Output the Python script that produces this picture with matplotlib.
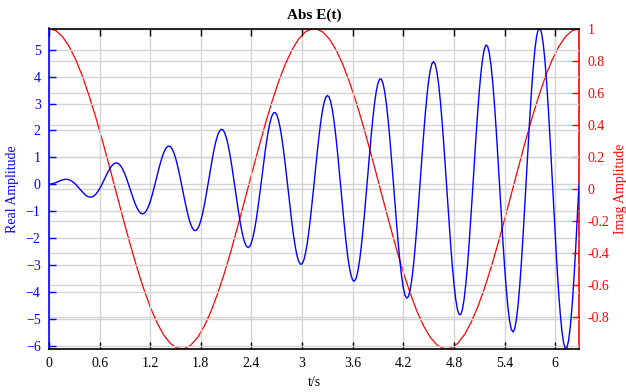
import numpy as np
import matplotlib
matplotlib.use("Agg")
import matplotlib.pyplot as plt

# ---- data ----
t_real = [0.00, 0.02, 0.04, 0.06, 0.08, 0.10, 0.12, 0.14, 0.16, 0.18,
          0.20, 0.22, 0.24, 0.26, 0.28, 0.30, 0.32, 0.34, 0.36, 0.38,
          0.40, 0.42, 0.44, 0.46, 0.48, 0.50, 0.52, 0.54, 0.56, 0.58,
          0.60, 0.62, 0.64, 0.66, 0.68, 0.70, 0.72, 0.74, 0.76, 0.78,
          0.80, 0.82, 0.84, 0.86, 0.88, 0.90, 0.92, 0.94, 0.96, 0.98,
          1.00, 1.02, 1.04, 1.06, 1.08, 1.10, 1.12, 1.14, 1.16, 1.18,
          1.20, 1.22, 1.24, 1.26, 1.28, 1.30, 1.32, 1.34, 1.36, 1.38,
          1.40, 1.42, 1.44, 1.46, 1.48, 1.50, 1.52, 1.54, 1.56, 1.58,
          1.60, 1.62, 1.64, 1.66, 1.68, 1.70, 1.72, 1.74, 1.76, 1.78,
          1.80, 1.82, 1.84, 1.86, 1.88, 1.90, 1.92, 1.94, 1.96, 1.98,
          2.00, 2.02, 2.04, 2.06, 2.08, 2.10, 2.12, 2.14, 2.16, 2.18,
          2.20, 2.22, 2.24, 2.26, 2.28, 2.30, 2.32, 2.34, 2.36, 2.38,
          2.40, 2.42, 2.44, 2.46, 2.48, 2.50, 2.52, 2.54, 2.56, 2.58,
          2.60, 2.62, 2.64, 2.66, 2.68, 2.70, 2.72, 2.74, 2.76, 2.78,
          2.80, 2.82, 2.84, 2.86, 2.88, 2.90, 2.92, 2.94, 2.96, 2.98,
          3.00, 3.02, 3.04, 3.06, 3.08, 3.10, 3.12, 3.14, 3.16, 3.18,
          3.20, 3.22, 3.24, 3.26, 3.28, 3.30, 3.32, 3.34, 3.36, 3.38,
          3.40, 3.42, 3.44, 3.46, 3.48, 3.50, 3.52, 3.54, 3.56, 3.58,
          3.60, 3.62, 3.64, 3.66, 3.68, 3.70, 3.72, 3.74, 3.76, 3.78,
          3.80, 3.82, 3.84, 3.86, 3.88, 3.90, 3.92, 3.94, 3.96, 3.98,
          4.00, 4.02, 4.04, 4.06, 4.08, 4.10, 4.12, 4.14, 4.16, 4.18,
          4.20, 4.22, 4.24, 4.26, 4.28, 4.30, 4.32, 4.34, 4.36, 4.38,
          4.40, 4.42, 4.44, 4.46, 4.48, 4.50, 4.52, 4.54, 4.56, 4.58,
          4.60, 4.62, 4.64, 4.66, 4.68, 4.70, 4.72, 4.74, 4.76, 4.78,
          4.80, 4.82, 4.84, 4.86, 4.88, 4.90, 4.92, 4.94, 4.96, 4.98,
          5.00, 5.02, 5.04, 5.06, 5.08, 5.10, 5.12, 5.14, 5.16, 5.18,
          5.20, 5.22, 5.24, 5.26, 5.28, 5.30, 5.32, 5.34, 5.36, 5.38,
          5.40, 5.42, 5.44, 5.46, 5.48, 5.50, 5.52, 5.54, 5.56, 5.58,
          5.60, 5.62, 5.64, 5.66, 5.68, 5.70, 5.72, 5.74, 5.76, 5.78,
          5.80, 5.82, 5.84, 5.86, 5.88, 5.90, 5.92, 5.94, 5.96, 5.98,
          6.00, 6.02, 6.04, 6.06, 6.08, 6.10, 6.12, 6.14, 6.16, 6.18,
          6.20, 6.22, 6.24, 6.26, 6.28, 6.2832]
real_amp = [0.000, 0.004, 0.016, 0.034, 0.057, 0.084, 0.112, 0.138, 0.160, 0.175,
            0.182, 0.178, 0.162, 0.134, 0.094, 0.042, -0.019, -0.087, -0.159, -0.233,
            -0.303, -0.366, -0.419, -0.457, -0.478, -0.479, -0.459, -0.417, -0.354, -0.269,
            -0.168, -0.052, 0.075, 0.206, 0.336, 0.460, 0.572, 0.665, 0.736, 0.779,
            0.792, 0.772, 0.718, 0.632, 0.515, 0.371, 0.205, 0.023, -0.167, -0.359,
            -0.544, -0.714, -0.861, -0.978, -1.059, -1.100, -1.097, -1.049, -0.954, -0.819,
            -0.644, -0.437, -0.205, 0.042, 0.296, 0.546, 0.782, 0.993, 1.168, 1.303,
            1.387, 1.417, 1.391, 1.306, 1.167, 0.976, 0.739, 0.467, 0.168, -0.145,
            -0.461, -0.765, -1.047, -1.292, -1.490, -1.634, -1.715, -1.727, -1.670, -1.544,
            -1.352, -1.101, -0.800, -0.459, -0.093, 0.285, 0.659, 1.015, 1.337, 1.611,
            1.826, 1.971, 2.040, 2.027, 1.932, 1.757, 1.508, 1.193, 0.823, 0.414,
            -0.020, -0.460, -0.891, -1.293, -1.650, -1.947, -2.170, -2.309, -2.358, -2.314,
            -2.173, -1.945, -1.632, -1.250, -0.810, -0.331, 0.169, 0.671, 1.153, 1.597,
            1.982, 2.295, 2.519, 2.645, 2.668, 2.583, 2.391, 2.102, 1.723, 1.270,
            0.759, 0.210, -0.356, -0.915, -1.445, -1.925, -2.333, -2.654, -2.872, -2.977,
            -2.964, -2.832, -2.584, -2.229, -1.780, -1.252, -0.669, -0.050, 0.578, 1.192,
            1.765, 2.274, 2.698, 3.019, 3.223, 3.300, 3.245, 3.059, 2.749, 2.323,
            1.799, 1.197, 0.539, -0.147, -0.836, -1.499, -2.106, -2.642, -3.074, -3.389,
            -3.571, -3.611, -3.509, -3.260, -2.886, -2.381, -1.786, -1.102, -0.372, 0.381,
            1.126, 1.835, 2.477, 3.026, 3.459, 3.759, 3.911, 3.907, 3.747, 3.434,
            2.980, 2.403, 1.724, 0.968, 0.166, -0.650, -1.445, -2.197, -2.861, -3.423,
            -3.849, -4.126, -4.240, -4.185, -3.962, -3.577, -3.046, -2.387, -1.626, -0.794,
            0.078, 0.955, 1.801, 2.583, 3.269, 3.830, 4.241, 4.487, 4.555, 4.443,
            4.148, 3.687, 3.074, 2.331, 1.490, 0.581, -0.359, -1.292, -2.182, -2.992,
            -3.687, -4.244, -4.631, -4.839, -4.853, -4.674, -4.306, -3.762, -3.062, -2.236,
            -1.312, -0.328, 0.676, 1.661, 2.589, 3.419, 4.119, 4.659, 5.016, 5.176,
            5.130, 4.879, 4.430, 3.799, 3.012, 2.098, 1.099, 0.038, -1.028, -2.060,
            -3.018, -3.862, -4.558, -5.075, -5.396, -5.498, -5.388, -5.054, -4.521, -3.798,
            -2.921, -1.920, -0.836, 0.290, 1.413, 2.486, 3.469, 4.317, 5.001, 5.488,
            5.758, 5.801, 5.611, 5.197, 4.572, 3.757, 2.786, 1.700, 0.538, -0.655,
            -1.829, -2.938, -3.938, -4.784, -5.444, -5.893, -6.108, -6.081, -5.813, -5.307,
            -4.583, -3.675, -2.611, -1.439, -0.200, 0.000]

t_imag = [0.00, 0.08, 0.16, 0.24, 0.32, 0.40, 0.48, 0.56, 0.64, 0.72,
          0.80, 0.88, 0.96, 1.04, 1.12, 1.20, 1.28, 1.36, 1.44, 1.52,
          1.60, 1.68, 1.76, 1.84, 1.92, 2.00, 2.08, 2.16, 2.24, 2.32,
          2.40, 2.48, 2.56, 2.64, 2.72, 2.80, 2.88, 2.96, 3.04, 3.12,
          3.163, 3.243, 3.323, 3.403, 3.483, 3.563, 3.643, 3.723, 3.803, 3.883,
          3.963, 4.043, 4.123, 4.203, 4.283, 4.363, 4.443, 4.523, 4.603, 4.683,
          4.763, 4.843, 4.923, 5.003, 5.083, 5.163, 5.243, 5.323, 5.403, 5.483,
          5.563, 5.643, 5.723, 5.803, 5.883, 5.963, 6.043, 6.123, 6.203, 6.2832]
imag_amp = [1.0000, 0.9872, 0.9492, 0.8870, 0.8021, 0.6967, 0.5735, 0.4357, 0.2867, 0.1304,
            -0.0292, -0.1881, -0.3422, -0.4875, -0.6203, -0.7374, -0.8356, -0.9124, -0.9660, -0.9948,
            -0.9983, -0.9762, -0.9293, -0.8585, -0.7659, -0.6536, -0.5250, -0.3833, -0.2303, -0.0723,
            0.0875, 0.2450, 0.3967, 0.5376, 0.6651, 0.7756, 0.8662, 0.9348, 0.9794, 0.9991,
            0.9991, 0.9794, 0.9348, 0.8662, 0.7756, 0.6651, 0.5376, 0.3967, 0.2450, 0.0875,
            -0.0723, -0.2303, -0.3833, -0.5250, -0.6536, -0.7659, -0.8585, -0.9293, -0.9762, -0.9983,
            -0.9948, -0.9660, -0.9124, -0.8356, -0.7374, -0.6203, -0.4875, -0.3422, -0.1881, -0.0292,
            0.1304, 0.2867, 0.4357, 0.5735, 0.6967, 0.8021, 0.8870, 0.9492, 0.9872, 1.0000]

x_ticks = [0, 0.6, 1.2, 1.8, 2.4, 3, 3.6, 4.2, 4.8, 5.4, 6]
x_ticklabels = ["0", "0.6", "1.2", "1.8", "2.4", "3", "3.6", "4.2", "4.8", "5.4", "6"]
left_ticks = [-6, -5, -4, -3, -2, -1, 0, 1, 2, 3, 4, 5]
right_ticks = [-0.8, -0.6, -0.4, -0.2, 0, 0.2, 0.4, 0.6, 0.8, 1]
right_ticklabels = ["-0.8", "-0.6", "-0.4", "-0.2", "0", "0.2", "0.4", "0.6", "0.8", "1"]

title = "Abs E(t)"
xlabel = "t/s"
ylabel_left = "Real Amplitude"
ylabel_right = "Imag Amplitude"

# ---- style ----
plt.rcParams['font.family'] = ['Liberation Serif', 'DejaVu Serif']
plt.rcParams['font.size'] = 10

fig = plt.figure(figsize=(6.26, 3.92), dpi=100)
ax = fig.add_axes([49/626, 1 - 349/392, (579 - 49)/626, (349 - 28.5)/392])
ax2 = ax.twinx()

grid_c = "#d3d3d3"
ax.set_axisbelow(True)
ax2.set_axisbelow(True)
ax.grid(True, axis='both', color=grid_c, lw=1.0)
ax2.grid(True, axis='y', color=grid_c, lw=1.0)
ax.set_zorder(2)
ax.patch.set_visible(False)
ax2.set_zorder(1)

ax.plot(t_real, real_amp, color='#0000ff', lw=1.0)
ax2.plot(t_imag, imag_amp, color='#ff0000', lw=0.9)

ax.set_xlim(0, 6.2832)
ax.set_ylim(-6.13, 5.79)
ax2.set_ylim(-1, 1)

ax.set_xticks(x_ticks)
ax.set_xticklabels(x_ticklabels)
ax.set_yticks(left_ticks)
ax2.set_yticks(right_ticks)
ax2.set_yticklabels(right_ticklabels)

ax.tick_params(axis='x', direction='in', length=5, width=1, top=True, colors='black', labelsize=10, pad=6)
ax.tick_params(axis='y', direction='in', length=5, width=1, colors='#0000ff', labelcolor='#0000ff', labelsize=10, pad=6)
ax2.tick_params(axis='y', direction='in', length=5, width=1, colors='#ff0000', labelcolor='#ff0000', labelsize=10, pad=6)

for s in ['top', 'bottom']:
    ax.spines[s].set_color('black')
    ax.spines[s].set_linewidth(1.2)
ax.spines['left'].set_color('#0000ff')
ax.spines['left'].set_linewidth(1.2)
ax.spines['right'].set_visible(False)
ax2.spines['right'].set_color('#ff0000')
ax2.spines['right'].set_linewidth(1.2)
ax2.spines['left'].set_visible(False)
ax2.spines['top'].set_visible(False)
ax2.spines['bottom'].set_visible(False)

ax.set_title(title, fontweight='bold', fontsize=11, pad=7)
ax.set_xlabel(xlabel, fontsize=10, labelpad=4)
ax.set_ylabel(ylabel_left, color='#0000ff', fontsize=10)
ax2.set_ylabel(ylabel_right, color='#ff0000', fontsize=10)
ax.yaxis.set_label_coords(-0.057, 0.5)
ax2.yaxis.set_label_coords(1.066, 0.5)

fig.savefig("out.png", dpi=100)
